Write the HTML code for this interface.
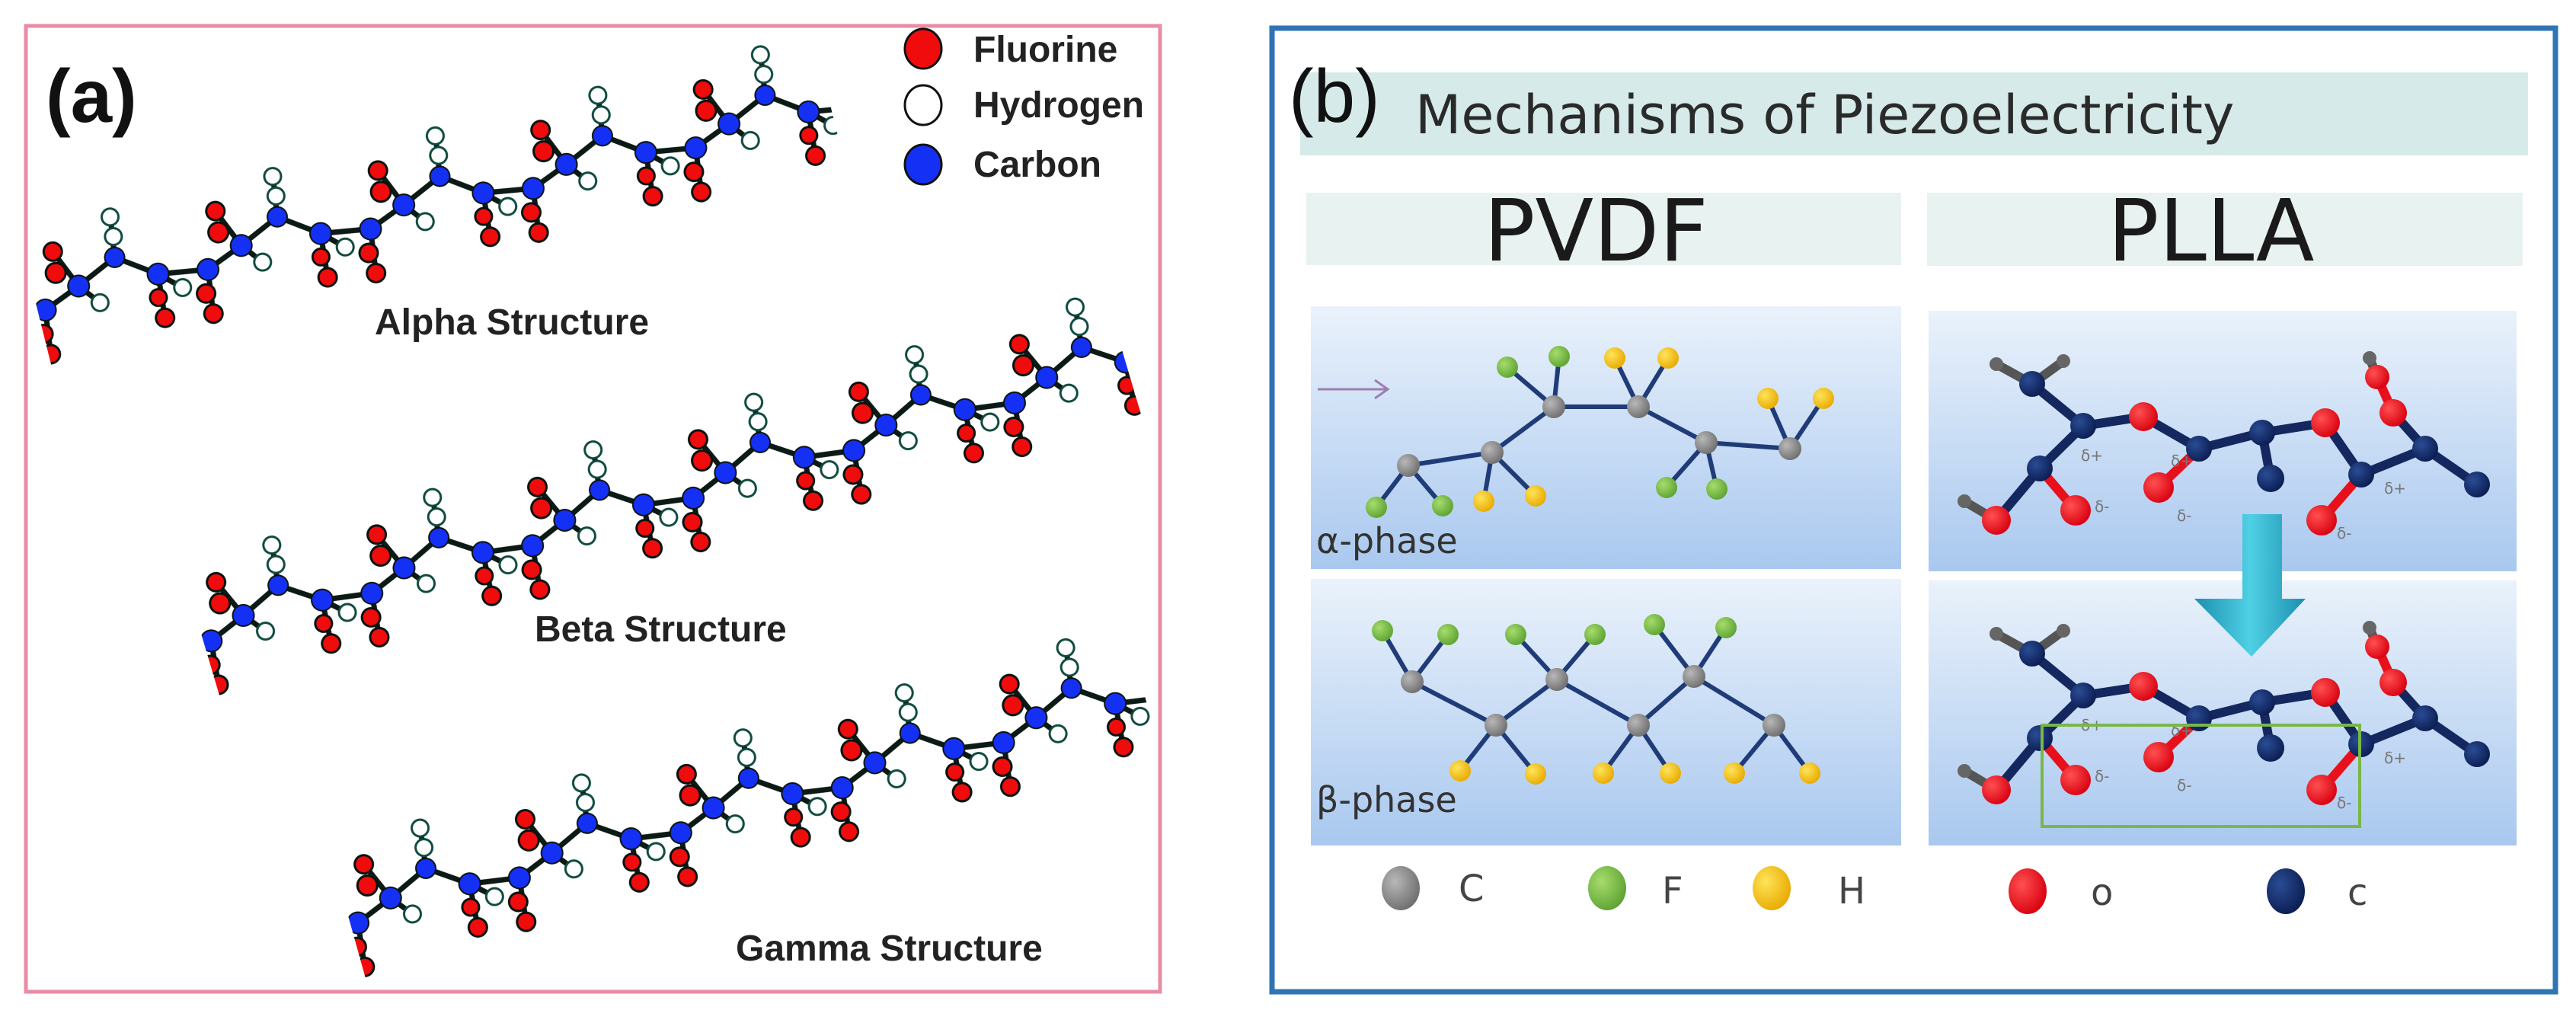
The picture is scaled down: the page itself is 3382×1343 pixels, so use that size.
<!DOCTYPE html>
<html><head><meta charset="utf-8"><style>
html,body{margin:0;padding:0;background:#fff}
body{width:3382px;height:1338px;overflow:hidden;position:relative}
</style></head><body>
<svg width="3382" height="1338" viewBox="0 0 3382 1338" xmlns="http://www.w3.org/2000/svg">
<defs>
  <linearGradient id="pg" x1="0" y1="0" x2="0" y2="1">
    <stop offset="0" stop-color="#eaf2fb"/><stop offset="1" stop-color="#a9c8ef"/>
  </linearGradient>
  <linearGradient id="ag" x1="0" y1="0" x2="1" y2="0">
    <stop offset="0" stop-color="#1c8fb0"/><stop offset="0.5" stop-color="#4fd0e4"/><stop offset="1" stop-color="#1c8fb0"/>
  </linearGradient>
  <pattern id="chain" patternUnits="userSpaceOnUse" width="220" height="200" x="0" y="-100">
    <g stroke="#0b1a14" stroke-width="7" fill="none">
      <polyline points="-55,110 10,120 60,100 115,75 165,110 230,120 280,100"/>
      <line x1="10" y1="120" x2="3" y2="178"/>
      <line x1="60" y1="100" x2="38" y2="48"/>
      <line x1="60" y1="100" x2="82" y2="128"/>
      <line x1="115" y1="75" x2="122" y2="25"/>
      <line x1="165" y1="110" x2="160" y2="168"/>
      <line x1="165" y1="110" x2="192" y2="135"/>
    </g>
    <g stroke="#08120e" stroke-width="3">
      <circle cx="0" cy="150" r="12" fill="#f00c0c"/>
      <circle cx="3" cy="178" r="12" fill="#f00c0c"/>
      <circle cx="220" cy="150" r="12" fill="#f00c0c"/>
      <circle cx="223" cy="178" r="12" fill="#f00c0c"/>
      <circle cx="35" cy="76" r="13" fill="#f00c0c"/>
      <circle cx="38" cy="48" r="12" fill="#f00c0c"/>
      <circle cx="158" cy="140" r="11" fill="#f00c0c"/>
      <circle cx="160" cy="168" r="12" fill="#f00c0c"/>
    </g>
    <g stroke="#0f4a40" stroke-width="3" fill="#fff">
      <circle cx="82" cy="128" r="11"/>
      <circle cx="120" cy="48" r="11"/>
      <circle cx="122" cy="22" r="11"/>
      <circle cx="192" cy="135" r="11"/>
    </g>
    <g stroke="#08120e" stroke-width="2" fill="#1530f5">
      <circle cx="10" cy="120" r="14"/>
      <circle cx="230" cy="120" r="14"/>
      <circle cx="60" cy="100" r="14"/>
      <circle cx="115" cy="75" r="13"/>
      <circle cx="165" cy="110" r="14"/>
    </g>
  </pattern>
  <radialGradient id="gC" cx="0.35" cy="0.35" r="0.7"><stop offset="0" stop-color="#b8b8b8"/><stop offset="1" stop-color="#6e6e6e"/></radialGradient>
  <radialGradient id="gF" cx="0.35" cy="0.35" r="0.7"><stop offset="0" stop-color="#a6dc6e"/><stop offset="1" stop-color="#5ea332"/></radialGradient>
  <radialGradient id="gH" cx="0.35" cy="0.35" r="0.7"><stop offset="0" stop-color="#ffe45a"/><stop offset="1" stop-color="#e8aa00"/></radialGradient>
  <radialGradient id="gO" cx="0.35" cy="0.35" r="0.7"><stop offset="0" stop-color="#ff5050"/><stop offset="1" stop-color="#d80010"/></radialGradient>
  <radialGradient id="gN" cx="0.35" cy="0.35" r="0.7"><stop offset="0" stop-color="#2a4c94"/><stop offset="1" stop-color="#0b1d52"/></radialGradient>
</defs>

<!-- Panel (a) -->
<rect x="34" y="34" width="1489" height="1268" fill="#fff" stroke="#e98ca5" stroke-width="5"/>
<text x="60" y="160" font-family="Liberation Sans, sans-serif" font-weight="bold" font-size="98" fill="#111">(a)</text>

<g transform="translate(45,390) rotate(-14)">
  <rect x="0" y="-100" width="1075" height="200" fill="url(#chain)"/>
</g>
<g transform="translate(262,825) rotate(-16.5)">
  <rect x="0" y="-100" width="1265" height="200" fill="url(#chain)"/>
</g>
<g transform="translate(455,1195) rotate(-15.6)">
  <rect x="0" y="-100" width="1085" height="200" fill="url(#chain)"/>
</g>

<g font-family="Liberation Sans, sans-serif" font-weight="bold" font-size="48" fill="#222">
  <text x="492" y="439">Alpha Structure</text>
  <text x="702" y="842">Beta Structure</text>
  <text x="966" y="1261">Gamma Structure</text>
</g>
<g stroke="#111" stroke-width="3">
  <ellipse cx="1212" cy="64" rx="24" ry="26" fill="#f00c0c"/>
  <ellipse cx="1212" cy="138" rx="24" ry="26" fill="#fff"/>
  <ellipse cx="1212" cy="216" rx="24" ry="26" fill="#1530f5"/>
</g>
<g font-family="Liberation Sans, sans-serif" font-weight="bold" font-size="48" fill="#222">
  <text x="1278" y="81">Fluorine</text>
  <text x="1278" y="154">Hydrogen</text>
  <text x="1278" y="232">Carbon</text>
</g>

<!-- Panel (b) -->
<rect x="1670" y="37" width="1685" height="1265" fill="#fff" stroke="#2f74b5" stroke-width="7"/>
<rect x="1707" y="95" width="1612" height="109" fill="#d6eaea"/>
<text x="1692" y="160" font-family="Liberation Sans, sans-serif" font-size="98" fill="#111">(b)</text>
<text x="1858" y="175" font-family="DejaVu Sans, sans-serif" font-size="70" fill="#2a2a2a">Mechanisms of Piezoelectricity</text>

<rect x="1715" y="253" width="781" height="95" fill="#e8f2f0"/>
<rect x="2530" y="253" width="782" height="96" fill="#e8f2f0"/>
<text x="1948" y="342" font-family="DejaVu Sans, sans-serif" font-size="112" fill="#1a1a1a">PVDF</text>
<text x="2767" y="342" font-family="DejaVu Sans, sans-serif" font-size="112" fill="#1a1a1a">PLLA</text>

<rect x="1721" y="402" width="775" height="345" fill="url(#pg)"/>
<rect x="1721" y="760" width="775" height="350" fill="url(#pg)"/>
<rect x="2532" y="408" width="772" height="342" fill="url(#pg)"/>
<rect x="2532" y="762" width="772" height="348" fill="url(#pg)"/>

<!-- alpha PVDF -->
<g stroke="#9b7fb0" stroke-width="3" fill="none">
  <line x1="1730" y1="511" x2="1822" y2="511"/>
  <polyline points="1805,499 1822,511 1805,523"/>
</g>
<g stroke="#1f3c78" stroke-width="6">
  <polyline fill="none" points="1849,611 1959,594 2040,534 2151,534 2240,581 2350,589"/>
  <line x1="1849" y1="611" x2="1807" y2="666"/><line x1="1849" y1="611" x2="1894" y2="664"/>
  <line x1="1959" y1="594" x2="1948" y2="658"/><line x1="1959" y1="594" x2="2016" y2="651"/>
  <line x1="2040" y1="534" x2="1979" y2="482"/><line x1="2040" y1="534" x2="2047" y2="468"/>
  <line x1="2151" y1="534" x2="2120" y2="470"/><line x1="2151" y1="534" x2="2190" y2="470"/>
  <line x1="2240" y1="581" x2="2188" y2="640"/><line x1="2240" y1="581" x2="2254" y2="642"/>
  <line x1="2350" y1="589" x2="2321" y2="523"/><line x1="2350" y1="589" x2="2394" y2="523"/>
</g>
<g>
  <circle cx="1807" cy="666" r="14" fill="url(#gF)"/><circle cx="1894" cy="664" r="14" fill="url(#gF)"/>
  <circle cx="1979" cy="482" r="14" fill="url(#gF)"/><circle cx="2047" cy="468" r="14" fill="url(#gF)"/>
  <circle cx="2188" cy="640" r="14" fill="url(#gF)"/><circle cx="2254" cy="642" r="14" fill="url(#gF)"/>
  <circle cx="1948" cy="658" r="14" fill="url(#gH)"/><circle cx="2016" cy="651" r="14" fill="url(#gH)"/>
  <circle cx="2120" cy="470" r="14" fill="url(#gH)"/><circle cx="2190" cy="470" r="14" fill="url(#gH)"/>
  <circle cx="2321" cy="523" r="14" fill="url(#gH)"/><circle cx="2394" cy="523" r="14" fill="url(#gH)"/>
  <circle cx="1849" cy="611" r="15" fill="url(#gC)"/><circle cx="1959" cy="594" r="15" fill="url(#gC)"/>
  <circle cx="2040" cy="534" r="15" fill="url(#gC)"/><circle cx="2151" cy="534" r="15" fill="url(#gC)"/>
  <circle cx="2240" cy="581" r="15" fill="url(#gC)"/><circle cx="2350" cy="589" r="15" fill="url(#gC)"/>
</g>
<text x="1728" y="726" font-family="DejaVu Sans, sans-serif" font-size="46" fill="#333">α-phase</text>

<!-- beta PVDF -->
<g stroke="#1f3c78" stroke-width="6">
  <polyline fill="none" points="1854,895 1964,952 2044,892 2151,952 2224,888 2329,952"/>
  <line x1="1854" y1="895" x2="1815" y2="828"/><line x1="1854" y1="895" x2="1901" y2="833"/>
  <line x1="2044" y1="892" x2="1990" y2="833"/><line x1="2044" y1="892" x2="2094" y2="833"/>
  <line x1="2224" y1="888" x2="2172" y2="820"/><line x1="2224" y1="888" x2="2266" y2="824"/>
  <line x1="1964" y1="952" x2="1917" y2="1012"/><line x1="1964" y1="952" x2="2016" y2="1016"/>
  <line x1="2151" y1="952" x2="2105" y2="1015"/><line x1="2151" y1="952" x2="2193" y2="1015"/>
  <line x1="2329" y1="952" x2="2277" y2="1015"/><line x1="2329" y1="952" x2="2376" y2="1015"/>
</g>
<g>
  <circle cx="1815" cy="828" r="14" fill="url(#gF)"/><circle cx="1901" cy="833" r="14" fill="url(#gF)"/>
  <circle cx="1990" cy="833" r="14" fill="url(#gF)"/><circle cx="2094" cy="833" r="14" fill="url(#gF)"/>
  <circle cx="2172" cy="820" r="14" fill="url(#gF)"/><circle cx="2266" cy="824" r="14" fill="url(#gF)"/>
  <circle cx="1917" cy="1012" r="14" fill="url(#gH)"/><circle cx="2016" cy="1016" r="14" fill="url(#gH)"/>
  <circle cx="2105" cy="1015" r="14" fill="url(#gH)"/><circle cx="2193" cy="1015" r="14" fill="url(#gH)"/>
  <circle cx="2277" cy="1015" r="14" fill="url(#gH)"/><circle cx="2376" cy="1015" r="14" fill="url(#gH)"/>
  <circle cx="1854" cy="895" r="15" fill="url(#gC)"/><circle cx="1964" cy="952" r="15" fill="url(#gC)"/>
  <circle cx="2044" cy="892" r="15" fill="url(#gC)"/><circle cx="2151" cy="952" r="15" fill="url(#gC)"/>
  <circle cx="2224" cy="888" r="15" fill="url(#gC)"/><circle cx="2329" cy="952" r="15" fill="url(#gC)"/>
</g>
<text x="1728" y="1066" font-family="DejaVu Sans, sans-serif" font-size="46" fill="#333">β-phase</text>

<!-- PLLA molecule template -->
<g id="plla">
  <g stroke="#14285f" stroke-width="12" stroke-linecap="round" fill="none">
    <line x1="2621" y1="478" x2="2668" y2="504" stroke="#555"/>
    <line x1="2709" y1="474" x2="2668" y2="504" stroke="#555"/>
    <polyline points="2668,504 2735,559 2814,547 2887,589 2970,568 3053,555 3100,623 3184,589 3252,636"/>
    <line x1="3184" y1="589" x2="3142" y2="542"/>
    <line x1="3142" y1="542" x2="3121" y2="495" stroke="#e8101a"/>
    <line x1="3121" y1="495" x2="3111" y2="470" stroke="#555"/>
    <line x1="2735" y1="559" x2="2678" y2="615"/>
    <line x1="2678" y1="615" x2="2621" y2="683"/>
    <line x1="2621" y1="683" x2="2579" y2="658" stroke="#555"/>
    <line x1="2678" y1="615" x2="2725" y2="670" stroke="#e8101a"/>
    <line x1="2887" y1="589" x2="2834" y2="640" stroke="#e8101a"/>
    <line x1="2970" y1="568" x2="2981" y2="628"/>
    <line x1="3100" y1="623" x2="3048" y2="683" stroke="#e8101a"/>
  </g>
  <g>
    <circle cx="2621" cy="478" r="9" fill="#666"/><circle cx="2709" cy="474" r="9" fill="#666"/>
    <circle cx="3111" cy="470" r="9" fill="#666"/><circle cx="2579" cy="658" r="9" fill="#666"/>
    <circle cx="2668" cy="504" r="17" fill="url(#gN)"/><circle cx="2735" cy="559" r="17" fill="url(#gN)"/>
    <circle cx="2887" cy="589" r="17" fill="url(#gN)"/><circle cx="2970" cy="568" r="17" fill="url(#gN)"/>
    <circle cx="3100" cy="623" r="17" fill="url(#gN)"/><circle cx="3184" cy="589" r="17" fill="url(#gN)"/>
    <circle cx="3252" cy="636" r="17" fill="url(#gN)"/><circle cx="2678" cy="615" r="17" fill="url(#gN)"/>
    <circle cx="2981" cy="628" r="18" fill="url(#gN)"/>
    <circle cx="2814" cy="547" r="19" fill="url(#gO)"/><circle cx="3053" cy="555" r="19" fill="url(#gO)"/>
    <circle cx="3142" cy="542" r="18" fill="url(#gO)"/><circle cx="3121" cy="495" r="16" fill="url(#gO)"/>
    <circle cx="2621" cy="683" r="19" fill="url(#gO)"/><circle cx="2725" cy="670" r="20" fill="url(#gO)"/>
    <circle cx="2834" cy="640" r="20" fill="url(#gO)"/><circle cx="3048" cy="683" r="20" fill="url(#gO)"/>
  </g>
  <g font-family="DejaVu Sans, sans-serif" font-size="20" fill="#777">
    <text x="2732" y="605">δ+</text><text x="2750" y="672">δ-</text>
    <text x="2850" y="612">δ+</text><text x="2858" y="684">δ-</text>
    <text x="3130" y="648">δ+</text><text x="3068" y="707">δ-</text>
  </g>
</g>
<use href="#plla" transform="translate(0,354)"/>

<!-- cyan arrow -->
<path d="M2944,675 L2996,675 L2996,786 L3027,786 L2956,862 L2881,786 L2944,786 Z" fill="url(#ag)"/>

<!-- green box -->
<rect x="2681" y="952" width="417" height="133" fill="none" stroke="#7ab648" stroke-width="4"/>

<!-- legend b -->
<ellipse cx="1839" cy="1166" rx="25" ry="29" fill="url(#gC)"/>
<ellipse cx="2110" cy="1166" rx="25" ry="29" fill="url(#gF)"/>
<ellipse cx="2326" cy="1166" rx="25" ry="29" fill="url(#gH)"/>
<ellipse cx="2662" cy="1170" rx="25" ry="30" fill="url(#gO)"/>
<ellipse cx="3001" cy="1170" rx="25" ry="30" fill="url(#gN)"/>
<g font-family="DejaVu Sans, sans-serif" font-size="48" fill="#444">
  <text x="1915" y="1183">C</text>
  <text x="2182" y="1186">F</text>
  <text x="2413" y="1186">H</text>
  <text x="2745" y="1188">o</text>
  <text x="3082" y="1188">c</text>
</g>
</svg>
</body></html>
